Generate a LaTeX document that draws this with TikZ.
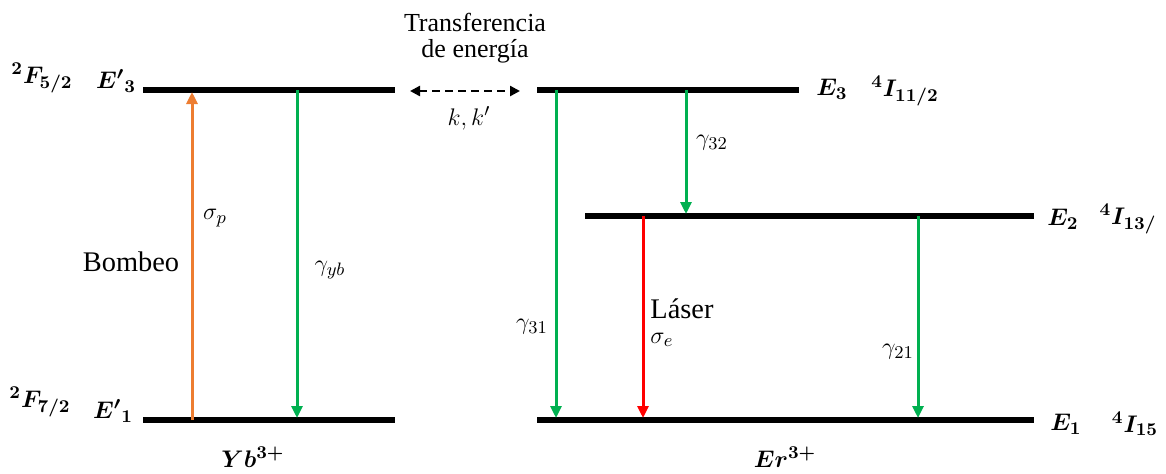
\documentclass[tikz,border=0pt]{standalone}
\usepackage{amsmath}
\usepackage{fontspec}
\setmainfont{Liberation Serif}
\newfontfamily\labelfont{Liberation Serif}
\usetikzlibrary{arrows.meta, positioning}

\definecolor{pumporange}{RGB}{237,125,49}
\definecolor{decaygreen}{RGB}{0,176,80}
\definecolor{laserred}{RGB}{255,0,0}

\begin{document}
\begin{tikzpicture}[
  x=0.5pt, y=-0.5pt,
  every node/.style={font=\labelfont\fontsize{12.5}{14}\selectfont, inner sep=1pt, align=center},
  bigtext/.style={font=\labelfont\fontsize{14.2}{16}\selectfont},
  level/.style={line width=2.6pt},
  trans/.style={line width=1.5pt, -{Triangle[length=6pt, width=5.5pt]}},
  pump/.style={trans, pumporange},
  decay/.style={trans, decaygreen},
  laser/.style={trans, laserred},
  exchange/.style={dash pattern=on 4pt off 2.5pt, line width=1.2pt, {Triangle[length=5pt, width=5pt]}-{Triangle[length=5pt, width=5pt]}}
]
\useasboundingbox (0,0) rectangle (1166,473);

% Yb levels
\coordinate (yb3w) at (143,90);
\coordinate (yb3e) at (395,90);
\coordinate (yb1w) at (143,420);
\coordinate (yb1e) at (395,420);
\draw[level] (yb3w) -- (yb3e);
\draw[level] (yb1w) -- (yb1e);

\node (termF52) at (42,78) {$\boldsymbol{^{2}F_{5/2}}$};
\node (levelE3p) at (116,81) {$\boldsymbol{{E'}_{3}}$};
\node (termF72) at (40,402) {$\boldsymbol{^{2}F_{7/2}}$};
\node (levelE1p) at (113,411) {$\boldsymbol{{E'}_{1}}$};
\node (ybion) at (253,457) {$\boldsymbol{Yb^{3+}}$};

% Er levels
\coordinate (er3w) at (537,90);
\coordinate (er3e) at (799,90);
\coordinate (er2w) at (585,216);
\coordinate (er2e) at (1034,216);
\coordinate (er1w) at (537,420);
\coordinate (er1e) at (1034,420);
\draw[level] (er3w) -- (er3e);
\draw[level] (er2w) -- (er2e);
\draw[level] (er1w) -- (er1e);

\node (levelE3) at (832,89) {$\boldsymbol{E_{3}}$};
\node (termI112) at (905,91) {$\boldsymbol{^{4}I_{11/2}}$};
\node (levelE2) at (1063,219) {$\boldsymbol{E_{2}}$};
\node (termI13) at (1128,219) {$\boldsymbol{^{4}I_{13/}}$};
\node (levelE1) at (1066,424) {$\boldsymbol{E_{1}}$};
\node (termI15) at (1135,424) {$\boldsymbol{^{4}I_{15}}$};
\node (erion) at (785,457) {$\boldsymbol{Er^{3+}}$};

% Energy transfer
\node[font=\labelfont\fontsize{13}{15}\selectfont] (transfer) at (475,38) {Transferencia\\[-2pt]de energía};
\coordinate (kleft) at (410,91);
\coordinate (kright) at (520,91);
\draw[exchange] (kleft) -- (kright);
\node (krate) at (469,118) {$k,k'$};

% Transitions
\coordinate (pumpa) at (192,420);
\coordinate (pumpb) at (192,92);
\draw[pump] (pumpa) -- (pumpb);
\node (sigmap) at (215,218) {$\sigma_p$};
\node[bigtext] (bombeo) at (131,262) {Bombeo};

\coordinate (ybda) at (297,90);
\coordinate (ybdb) at (297,418);
\draw[decay] (ybda) -- (ybdb);
\node (gammayb) at (330,270) {$\gamma_{yb}$};

\coordinate (g31a) at (556,90);
\coordinate (g31b) at (556,418);
\draw[decay] (g31a) -- (g31b);
\node (gamma31) at (532,327) {$\gamma_{31}$};

\coordinate (g32a) at (686,90);
\coordinate (g32b) at (686,214);
\draw[decay] (g32a) -- (g32b);
\node (gamma32) at (712,143) {$\gamma_{32}$};

\coordinate (lasa) at (643,216);
\coordinate (lasb) at (643,418);
\draw[laser] (lasa) -- (lasb);
\node[bigtext, anchor=west] (laser) at (648,309) {Láser};
\node[anchor=west] (sigmae) at (648,340) {$\sigma_e$};

\coordinate (g21a) at (918,216);
\coordinate (g21b) at (918,418);
\draw[decay] (g21a) -- (g21b);
\node (gamma21) at (898,352) {$\gamma_{21}$};

\end{tikzpicture}
\end{document}
